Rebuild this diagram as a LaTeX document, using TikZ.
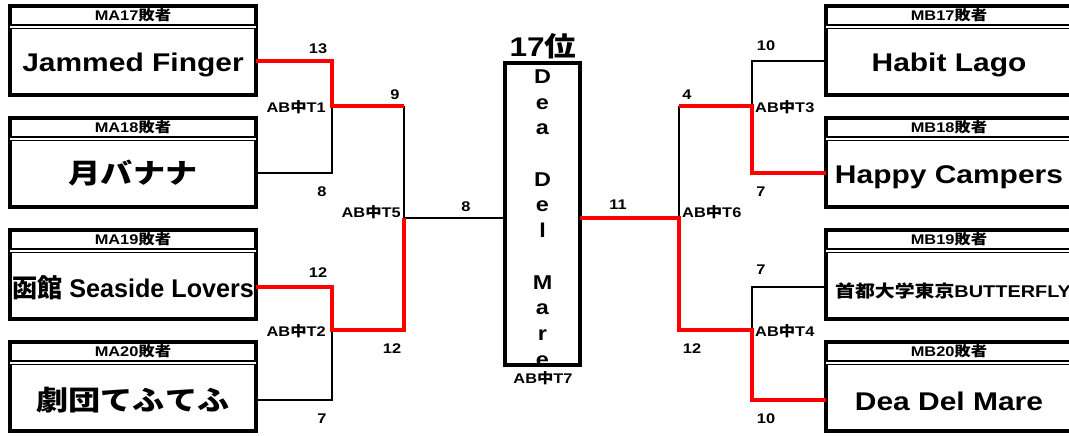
\documentclass[tikz,border=0pt]{standalone}
\usepackage{fontspec}
\setmainfont{Liberation Sans}[FakeStretch=1.17]
\newfontfamily\jp{Noto Sans CJK JP}[FakeStretch=1.17]
\usetikzlibrary{positioning}

\begin{document}
\begin{tikzpicture}[
    x = 1pt, y = 1pt,
    team/.style = {draw, line width=4pt, minimum width=246pt, minimum height=89pt,
                   inner sep=0pt, outer sep=0pt},
    hdr/.style = {font=\bfseries\fontsize{14}{14}\selectfont, inner sep=0pt},
    tname/.style = {font=\bfseries\fontsize{25.6}{26}\selectfont, inner sep=0pt,
                    text height=26pt, text depth=4pt},
    jname/.style = {tname, font=\jp\bfseries\fontsize{27.5}{28}\selectfont},
    num/.style = {font=\bfseries\fontsize{14}{14}\selectfont, inner sep=0pt},
    dbl/.style = {double, double distance=2.6pt, line width=1.2pt},
    win/.style = {draw=red, line width=4.5pt},
    lose/.style = {draw, line width=1.5pt},
  ]
  \useasboundingbox (0,0) rectangle (1069,436);

  % left side
  \node[team] (a1) at (133,385.5) {};
  \node[team] (a2) at (133,273.5) {};
  \node[team] (a3) at (133,161.5) {};
  \node[team] (a4) at (133,49.5) {};
  \node[hdr] (h1) at ([yshift=-9pt]a1.north) {MA17{\jp 敗者}};
  \node[hdr] (h2) at ([yshift=-9pt]a2.north) {MA18{\jp 敗者}};
  \node[hdr] (h3) at ([yshift=-9pt]a3.north) {MA19{\jp 敗者}};
  \node[hdr] (h4) at ([yshift=-9pt]a4.north) {MA20{\jp 敗者}};
  \draw[dbl] ([yshift=-21pt]a1.north west) -- ([yshift=-21pt]a1.north east);
  \draw[dbl] ([yshift=-21pt]a2.north west) -- ([yshift=-21pt]a2.north east);
  \draw[dbl] ([yshift=-21pt]a3.north west) -- ([yshift=-21pt]a3.north east);
  \draw[dbl] ([yshift=-21pt]a4.north west) -- ([yshift=-21pt]a4.north east);
  \node[tname] (n1) at ([yshift=-55pt]a1.north) {Jammed Finger};
  \node[jname] (n2) at ([yshift=-55pt]a2.north) {月バナナ};
  \node[tname] (n3) at ([yshift=-57pt]a3.north) {\scalebox{0.84}[1]{{\jp 函館} Seaside Lovers}};
  \node[jname] (n4) at ([yshift=-58pt]a4.north) {劇団てふてふ};

  % right side
  \node[team] (b1) at (949,385.5) {};
  \node[team] (b2) at (949,273.5) {};
  \node[team] (b3) at (949,161.5) {};
  \node[team] (b4) at (949,49.5) {};
  \node[hdr] (k1) at ([yshift=-9pt]b1.north) {MB17{\jp 敗者}};
  \node[hdr] (k2) at ([yshift=-9pt]b2.north) {MB18{\jp 敗者}};
  \node[hdr] (k3) at ([yshift=-9pt]b3.north) {MB19{\jp 敗者}};
  \node[hdr] (k4) at ([yshift=-9pt]b4.north) {MB20{\jp 敗者}};
  \draw[dbl] ([yshift=-21pt]b1.north west) -- ([yshift=-21pt]b1.north east);
  \draw[dbl] ([yshift=-21pt]b2.north west) -- ([yshift=-21pt]b2.north east);
  \draw[dbl] ([yshift=-21pt]b3.north west) -- ([yshift=-21pt]b3.north east);
  \draw[dbl] ([yshift=-21pt]b4.north west) -- ([yshift=-21pt]b4.north east);
  \node[tname] (m1) at ([yshift=-55pt]b1.north) {Habit Lago};
  \node[tname] (m2) at ([yshift=-55pt]b2.north) {Happy Campers};
  \node[tname, font=\bfseries\fontsize{17}{17}\selectfont, xshift=4pt] (m3) at ([yshift=-57pt]b3.north) {{\jp 首都大学東京}BUTTERFLY};
  \node[tname] (m4) at ([yshift=-58pt]b4.north) {Dea Del Mare};

  % centre
  \node[font=\bfseries\fontsize{20}{25.7}\selectfont, align=center, inner sep=0pt, anchor=north]
    (v) at (542.5,366.5) {D\\e\\a\\\mbox{}\\D\\e\\l\\\mbox{}\\M\\a\\r\\e};
  \node[team, minimum width=75pt, minimum height=302pt] (c) at (542.5,222) {};
  \node[font=\bfseries\fontsize{27}{27}\selectfont, inner sep=0pt] (rk) at (543,390) {17{\jp 位}};
  \node[num] (l7) at (543,58) {AB{\jp 中}T7};

  \coordinate (t1) at (332,330);
  \coordinate (t2) at (332,106);
  \coordinate (t5) at (404,218);
  \coordinate (t6) at (679,218);
  \coordinate (t3) at (752,330);
  \coordinate (t4) at (752,106);

  % losers
  \draw[lose] (a2.east |- n2) -| (t1);
  \draw[lose] (t1 -| t5) -- (t5);
  \draw[lose] (a4.east |- n4) -| (t2);
  \draw[lose] (t5) -- (c.west |- t5);
  \draw[lose] (t4) |- (b3.west |- m3);
  \draw[lose] (t6) -- (t6 |- t3);
  \draw[lose] (t3) |- (b1.west |- m1);
  % winners
  \draw[win] (a1.east |- n1) -| (t1) -- (t1 -| t5);
  \draw[win] (t5) -- (t5 |- t2) -- (t2) |- (a3.east |- n3);
  \draw[win] (c.east |- t6) -- (t6) -- (t6 |- t4) -- (t4) |- (b4.west |- m4);
  \draw[win] (t6 |- t3) -- (t3) |- (b2.west |- m2);

  % scores
  \node[num] (s1) at (318,387) {13};
  \node[num] (s2) at (322,244) {8};
  \node[num] (s3) at (318,163) {12};
  \node[num] (s4) at (322,17) {7};
  \node[num] (s5) at (395,341) {9};
  \node[num] (s6) at (392,87) {12};
  \node[num] (s7) at (466,229) {8};
  \node[num] (s8) at (618,231) {11};
  \node[num] (s9) at (687,341) {4};
  \node[num] (s10) at (692,87) {12};
  \node[num] (s11) at (766,390) {10};
  \node[num] (s12) at (761,244) {7};
  \node[num] (s13) at (761,166) {7};
  \node[num] (s14) at (766,17) {10};
  \node[num, anchor=east] (l1) at (326,329) {AB{\jp 中}T1};
  \node[num, anchor=east] (l2) at (326,105) {AB{\jp 中}T2};
  \node[num, anchor=east] (l5) at (401,224) {AB{\jp 中}T5};
  \node[num, anchor=west] (l6) at (682,224) {AB{\jp 中}T6};
  \node[num, anchor=west] (l3) at (755,329) {AB{\jp 中}T3};
  \node[num, anchor=west] (l4) at (755,105) {AB{\jp 中}T4};
\end{tikzpicture}
\end{document}
